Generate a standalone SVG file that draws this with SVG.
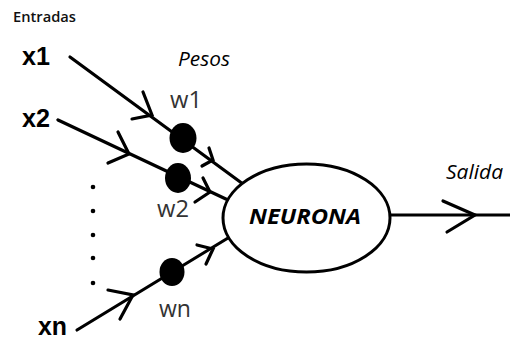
<svg xmlns="http://www.w3.org/2000/svg" width="510" height="340" viewBox="0 0 510 340">
<style>
.ln{fill:none;stroke:#000;stroke-width:3.2;stroke-linecap:round;stroke-linejoin:round}
.ah{fill:none;stroke:#000;stroke-width:3.2;stroke-linecap:round;stroke-linejoin:miter}
.dot{fill:#000}
.vd{fill:#000}
.xl{font-family:"Liberation Sans",Arial,sans-serif;font-weight:bold;font-size:26px;fill:#000}
.wl{font-family:"Open Sans","Noto Sans",sans-serif;font-size:24px;fill:#333}
.it{font-family:"Open Sans","Noto Sans",sans-serif;font-style:italic;font-size:20px;fill:#000}
.sm{font-family:"Open Sans","Noto Sans",sans-serif;font-weight:600;font-size:14px;fill:#111}
.nn{font-family:"Open Sans","Noto Sans",sans-serif;font-style:italic;font-weight:bold;font-size:21px;fill:#000}
</style>
<rect width="510" height="340" fill="#fff"/>
<g id="labels">
<text class="sm" x="13" y="22" textLength="63" lengthAdjust="spacingAndGlyphs">Entradas</text>
<text class="it" x="178" y="66" textLength="52" lengthAdjust="spacingAndGlyphs">Pesos</text>
<text class="it" x="446" y="179" textLength="57" lengthAdjust="spacingAndGlyphs">Salida</text>
</g>
<g id="connectors">
<line class="ln" x1="70" y1="57" x2="243" y2="184"/>
<line class="ln" x1="58" y1="120" x2="228" y2="200"/>
<line class="ln" x1="77" y1="330" x2="228" y2="238"/>
<line class="ln" x1="390" y1="215" x2="510" y2="215"/>
<polyline class="ah" points="143,92 152,115 132,119"/>
<polyline class="ah" points="209,148 213,160 202,166"/>
<polyline class="ah" points="118,132 129,154 108,163"/>
<polyline class="ah" points="203,178 210,192 195,202"/>
<polyline class="ah" points="108,290 133,295 120,319"/>
<polyline class="ah" points="197,245 213,249 206,264"/>
<polyline class="ah" points="443,201 475,215 447,232"/>
</g>
<g id="x1"><text class="xl" x="22" y="65" textLength="28" lengthAdjust="spacingAndGlyphs">x1</text></g>
<g id="x2"><text class="xl" x="22" y="127" textLength="28" lengthAdjust="spacingAndGlyphs">x2</text></g>
<g id="xn"><text class="xl" x="38" y="335" textLength="29" lengthAdjust="spacingAndGlyphs">xn</text></g>
<g id="ellipsis">
<circle class="vd" cx="93" cy="187" r="2.3"/>
<circle class="vd" cx="93" cy="211" r="2.3"/>
<circle class="vd" cx="93" cy="235" r="2.3"/>
<circle class="vd" cx="93" cy="258" r="2.3"/>
<circle class="vd" cx="93" cy="283" r="2.3"/>
</g>
<g id="w1"><ellipse class="dot" cx="183" cy="138" rx="13.5" ry="15"/><text class="wl" x="170" y="108" textLength="32" lengthAdjust="spacingAndGlyphs">w1</text></g>
<g id="w2"><ellipse class="dot" cx="178" cy="178" rx="13" ry="15"/><text class="wl" x="157" y="217" textLength="32" lengthAdjust="spacingAndGlyphs">w2</text></g>
<g id="wn"><ellipse class="dot" cx="172" cy="272" rx="12.5" ry="14"/><text class="wl" x="159" y="317" textLength="32" lengthAdjust="spacingAndGlyphs">wn</text></g>
<g id="neurona">
<ellipse cx="306.5" cy="218" rx="83.5" ry="54" fill="#fff" stroke="#000" stroke-width="3"/>
<text class="nn" x="249" y="224" textLength="112" lengthAdjust="spacingAndGlyphs">NEURONA</text>
</g>
</svg>
